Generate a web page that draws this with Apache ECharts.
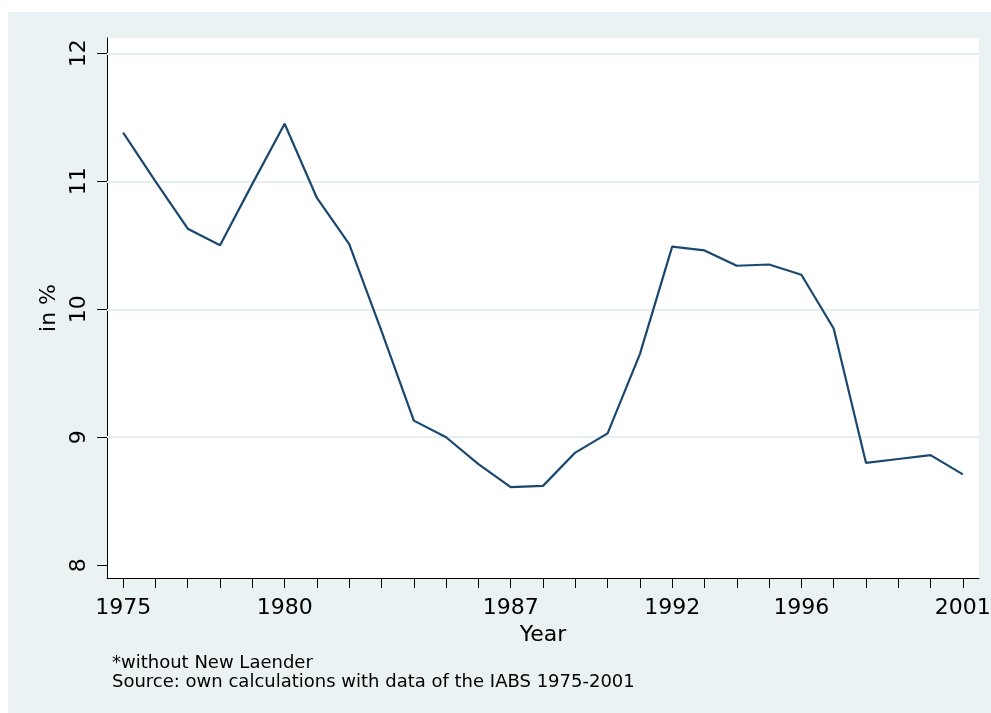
<!DOCTYPE html>
<html>
<head>
<meta charset="utf-8">
<script src="https://cdn.jsdelivr.net/npm/echarts@6/dist/echarts.min.js"></script>
<style>
html,body{margin:0;padding:0;background:#fff;}
#c{width:991px;height:713px;}
</style>
</head>
<body>
<div id="c"></div>
<script>
const years = [1975,1976,1977,1978,1979,1980,1981,1982,1983,1984,1985,1986,1987,1988,1989,1990,1991,1992,1993,1994,1995,1996,1997,1998,1999,2000,2001];
const rates = [11.38,11.0,10.63,10.50,10.98,11.45,10.87,10.51,9.83,9.13,9.00,8.79,8.61,8.62,8.88,9.03,9.65,10.49,10.46,10.34,10.35,10.27,9.85,8.80,8.83,8.86,8.71];
const xTickLabels = [1975,1980,1987,1992,1996,2001];
const yTickLabels = [8,9,10,11,12];
const yGridLines = [9,10,11,12];

const font = '"DejaVu Sans", "Liberation Sans", Arial, sans-serif';
const chart = echarts.init(document.getElementById('c'), null, {renderer:'canvas'});
chart.setOption({
  animation:false,
  backgroundColor:'#ffffff',
  graphic:[
    {type:'rect', z:-10, shape:{x:8,y:12,width:983,height:701}, style:{fill:'#eaf2f3'}},
    {type:'text', left:112, top:654, style:{text:'*without New Laender\nSource: own calculations with data of the IABS 1975-2001', font:'18px '+font, fill:'#000', lineHeight:19}}
  ],
  grid:{left:107, top:38, right:12, bottom:135, show:true, backgroundColor:'#ffffff', borderWidth:0, containLabel:false, outerBoundsMode:'none'},
  xAxis:{
    type:'value', min:1974.5, max:2001.5,
    name:'Year', nameLocation:'middle', nameGap:42,
    nameTextStyle:{fontSize:22, fontFamily:font, color:'#000'},
    axisLine:{show:true, onZero:false, lineStyle:{color:'#000', width:1}},
    axisTick:{show:true, length:10, customValues:years, lineStyle:{color:'#000', width:1}},
    axisLabel:{customValues:xTickLabels, fontSize:22, fontFamily:font, color:'#000', margin:19, formatter:v=>String(v)},
    splitLine:{show:false}
  },
  yAxis:{
    type:'value', min:7.9, max:12.12,
    name:'in %', nameLocation:'middle', nameGap:45, nameRotate:90,
    nameTextStyle:{fontSize:22, fontFamily:font, color:'#000'},
    axisLine:{show:true, onZero:false, lineStyle:{color:'#000', width:1}},
    axisTick:{show:true, length:10, customValues:yTickLabels, lineStyle:{color:'#000', width:1}},
    axisLabel:{customValues:yTickLabels, rotate:90, fontSize:22, fontFamily:font, color:'#000', margin:17, formatter:v=>String(v)},
    splitLine:{show:false}
  },
  series:[{
    type:'line',
    data:years.map((y,i)=>[y,rates[i]]),
    showSymbol:false, symbol:'none',
    lineStyle:{color:'#1a476f', width:2.2},
    z:5,
    markLine:{
      silent:true, symbol:'none', z:1,
      label:{show:false},
      lineStyle:{color:'#e6eff0', width:2, type:'solid'},
      data:yGridLines.map(v=>({yAxis:v}))
    }
  }]
});
</script>
</body>
</html>
